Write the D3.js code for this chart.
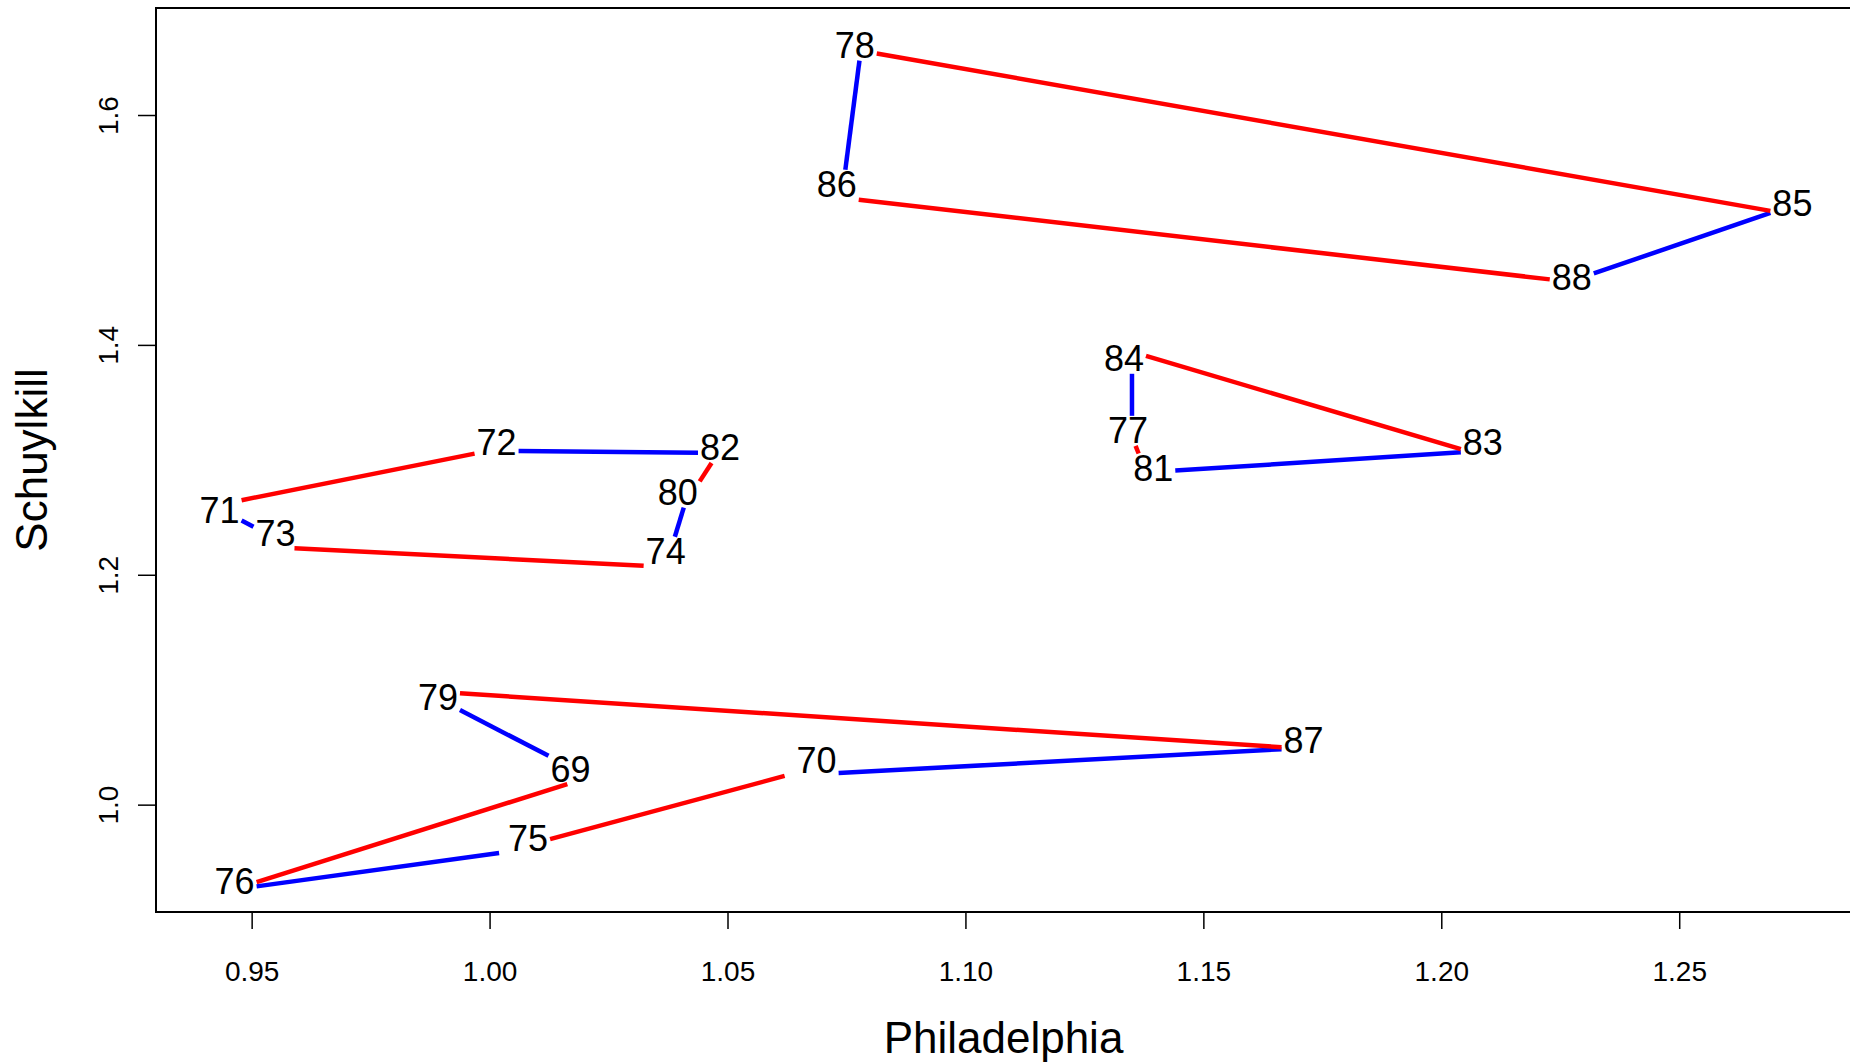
<!DOCTYPE html>
<html>
<head>
<meta charset="utf-8">
<script src="https://cdn.jsdelivr.net/npm/d3@7"></script>
<style>
  html, body { margin: 0; padding: 0; background: #fff; }
  svg { display: block; font-family: "Liberation Sans", Arial, sans-serif; }
</style>
</head>
<body>
<div id="chart"></div>
<script>

// years and their coordinates
var years = ['69', '70', '71', '72', '73', '74', '75', '76', '77', '78',
             '79', '80', '81', '82', '83', '84', '85', '86', '87', '88'];

var philadelphia = [1.021, 1.062, 0.942, 1.000, 0.959, 1.037, 1.002, 0.946, 1.135, 1.078,
                    0.986, 1.041, 1.138, 1.048, 1.206, 1.135, 1.270, 1.074, 1.170, 1.227];

var schuylkill = [1.024, 1.025, 1.260, 1.308, 1.223, 1.207, 0.958, 0.926, 1.320, 1.656,
                  1.099, 1.261, 1.289, 1.306, 1.307, 1.394, 1.516, 1.528, 1.049, 1.455];

// label nudges (px) so text does not sit on the point
var nudgeX = [-19, 32, 6, 7, -19, 0, 29, 2, -4, -6, 15, -7, 7, 2, 13, -8, 18, -5, 5, 2];
var nudgeY = [-8, -15, 5, -8, -15, -15, -14, -8, -6, -5, 7, -12, -4, -5, -9, 7, -8, -13, -8, -4];

// closed loops joining the years, colours alternate along each loop
var loops = [
  ['79', '69', '76', '75', '70', '87'],
  ['71', '73', '74', '80', '82', '72'],
  ['84', '77', '81', '83'],
  ['78', '86', '88', '85']
];
var loopColors = ['#0000ff', '#ff0000'];

var xTicks = [0.95, 1.00, 1.05, 1.10, 1.15, 1.20, 1.25];
var yTicks = [1.0, 1.2, 1.4, 1.6];

var labels = { x: 'Philadelphia', y: 'Schuylkill' };

var W = 1850, H = 1062;
var box = { left: 156, right: 1851, top: 8, bottom: 912 };
var half = { w: 22, h: 15 };   // label box used to cut the lines

function translate(x, y) {
  return 'translate(' + x + ',' + y + ')';
}

// Liang-Barsky: part of segment p0->p1 inside rectangle b
function clip(p0, p1, b) {
  var dx = p1.x - p0.x, dy = p1.y - p0.y;
  var p = [-dx, dx, -dy, dy];
  var q = [p0.x - b.x0, b.x1 - p0.x, p0.y - b.y0, b.y1 - p0.y];
  var t0 = 0, t1 = 1;
  for (var i = 0; i < 4; i++) {
    if (p[i] === 0) {
      if (q[i] < 0) return null;
    } else {
      var r = q[i] / p[i];
      if (p[i] < 0) {
        if (r > t1) return null;
        if (r > t0) t0 = r;
      } else {
        if (r < t0) return null;
        if (r < t1) t1 = r;
      }
    }
  }
  return [t0, t1];
}

var x = d3.scaleLinear().domain([0.9299, 1.2861]).range([box.left, box.right]);
var y = d3.scaleLinear().domain([0.9066, 1.6931]).range([box.bottom, box.top]);

var svg = d3.select('#chart').append('svg')
  .attr('width', W)
  .attr('height', H);

svg.append('rect')
  .attr('width', W).attr('height', H)
  .attr('fill', '#fff');

// points table
var points = {};
years.forEach(function(yr, i) {
  var px = x(philadelphia[i]), py = y(schuylkill[i]);
  var lx = px + nudgeX[i], ly = py + nudgeY[i];
  points[yr] = {
    label: yr, x: px, y: py, lx: lx, ly: ly,
    b: { x0: lx - half.w, x1: lx + half.w, y0: ly - half.h, y1: ly + half.h }
  };
});

// segments, cut where they run under a label
var segs = [];
loops.forEach(function(loop) {
  loop.forEach(function(yr, i) {
    var a = points[yr];
    var b = points[loop[(i + 1) % loop.length]];
    var ca = clip(a, b, a.b), cb = clip(a, b, b.b);
    var t0 = ca ? ca[1] : 0;
    var t1 = cb ? cb[0] : 1;
    if (t1 <= t0) return;
    segs.push({
      x1: a.x + (b.x - a.x) * t0, y1: a.y + (b.y - a.y) * t0,
      x2: a.x + (b.x - a.x) * t1, y2: a.y + (b.y - a.y) * t1,
      color: loopColors[i % 2]
    });
  });
});

svg.append('g').selectAll('line')
  .data(segs)
  .enter().append('line')
  .attr('x1', function(d) { return d.x1; })
  .attr('y1', function(d) { return d.y1; })
  .attr('x2', function(d) { return d.x2; })
  .attr('y2', function(d) { return d.y2; })
  .attr('stroke', function(d) { return d.color; })
  .attr('stroke-width', 4.5);

svg.append('g').selectAll('text')
  .data(years.map(function(yr) { return points[yr]; }))
  .enter().append('text')
  .attr('x', function(d) { return d.lx; })
  .attr('y', function(d) { return d.ly + 12.5; })
  .attr('text-anchor', 'middle')
  .attr('font-size', 36)
  .attr('fill', '#000')
  .text(function(d) { return d.label; });

// frame
svg.append('rect')
  .attr('x', box.left).attr('y', box.top)
  .attr('width', box.right - box.left)
  .attr('height', box.bottom - box.top)
  .attr('fill', 'none')
  .attr('stroke', '#000')
  .attr('stroke-width', 2);

// axes
var xAxis = svg.append('g')
  .attr('transform', translate(0, box.bottom))
  .call(d3.axisBottom(x).tickValues(xTicks).tickFormat(d3.format('.2f'))
    .tickSize(17).tickPadding(32));

var yAxis = svg.append('g')
  .attr('transform', translate(box.left, 0))
  .call(d3.axisLeft(y).tickValues(yTicks).tickFormat(d3.format('.1f'))
    .tickSize(18).tickPadding(0));

[xAxis, yAxis].forEach(function(a) {
  a.select('.domain').remove();
  a.selectAll('.tick line').attr('stroke', '#000').attr('stroke-width', 1.5);
  a.selectAll('.tick text')
    .attr('font-size', 28)
    .attr('font-family', '"Liberation Sans", Arial, sans-serif')
    .attr('fill', '#000');
});

yAxis.selectAll('.tick text')
  .attr('x', null).attr('dy', null)
  .attr('text-anchor', 'middle')
  .attr('transform', 'translate(-38,0) rotate(-90)');

// axis titles
svg.append('text')
  .attr('x', (box.left + box.right) / 2)
  .attr('y', 1053)
  .attr('text-anchor', 'middle')
  .attr('font-size', 44)
  .text(labels.x);

svg.append('text')
  .attr('transform', translate(47, (box.top + box.bottom) / 2) + ' rotate(-90)')
  .attr('text-anchor', 'middle')
  .attr('font-size', 44)
  .text(labels.y);

</script>
</body>
</html>
